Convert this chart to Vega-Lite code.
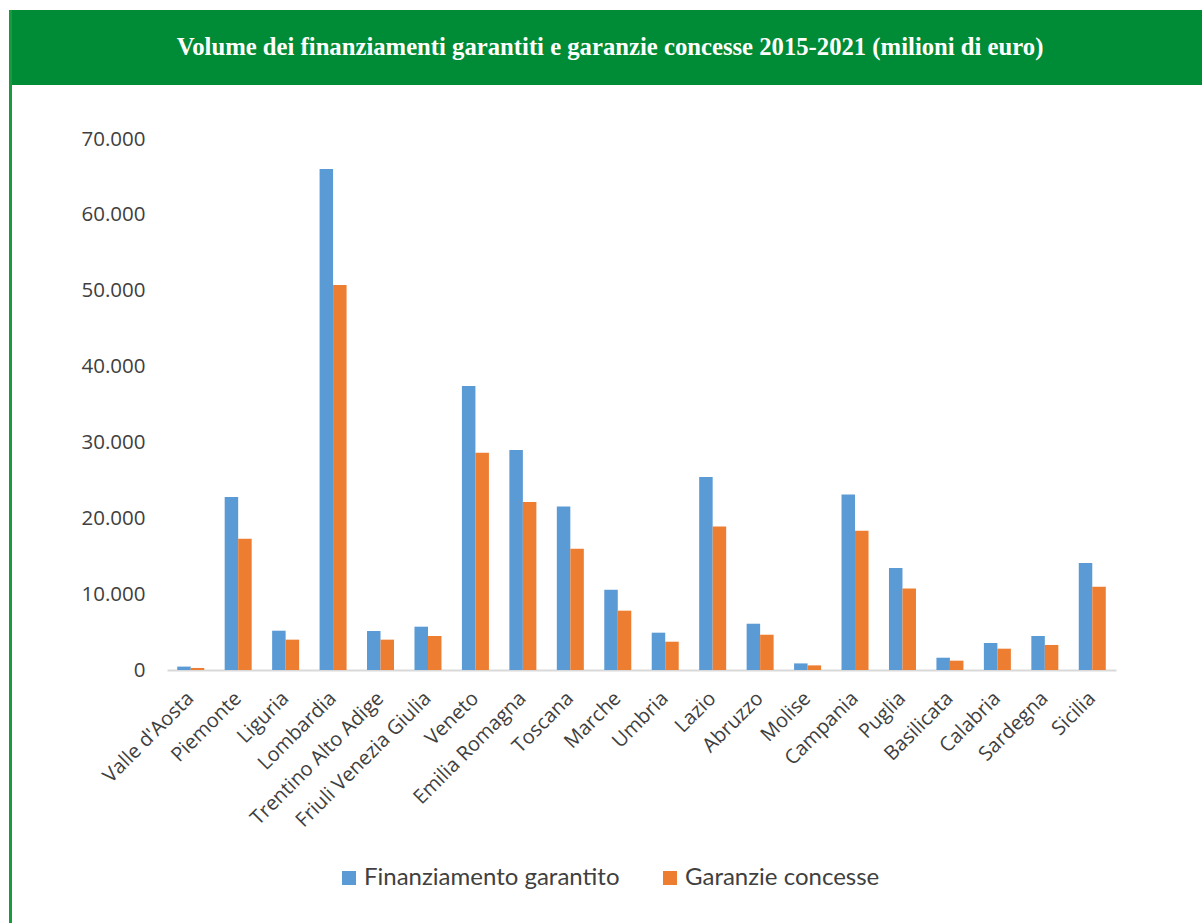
{
  "$schema": "https://vega.github.io/schema/vega-lite/v6.json",
  "padding": {"left": 9, "top": 10, "right": 0, "bottom": 0},
  "background": "white",
  "bounds": "flush",
  "spacing": 0,
  "config": {
    "view": {"stroke": null},
    "font": "Open Sans"
  },
  "hconcat": [
    {
      "width": 3,
      "height": 913,
      "view": {"fill": "#1a9a3f", "stroke": null},
      "data": {"values": [{"a": 1}]},
      "mark": {"type": "text", "text": ""}
    },
    {
      "bounds": "flush",
      "spacing": 54,
      "vconcat": [
        {
          "width": 1190,
          "height": 75,
          "view": {"fill": "#008C36", "stroke": null},
          "data": {"values": [{"t": "Volume dei finanziamenti garantiti e garanzie concesse 2015-2021 (milioni di euro)"}]},
          "mark": {"type": "text", "color": "white", "font": "Liberation Serif", "fontWeight": "bold", "fontSize": 24.7, "dx": 3},
          "encoding": {"text": {"field": "t"}}
        },
        {
          "bounds": "flush",
          "spacing": 20,
          "hconcat": [
            {
              "width": 135,
              "height": 531,
              "data": {"values": [{"a": 1}]},
              "mark": {"type": "text", "text": ""}
            },
            {
              "width": 949,
              "height": 531,
              "data": {
                "values": [
                  {"regione": "Valle d'Aosta", "serie": "Finanziamento garantito", "valore": 450},
                  {"regione": "Valle d'Aosta", "serie": "Garanzie concesse", "valore": 270},
                  {"regione": "Piemonte", "serie": "Finanziamento garantito", "valore": 22800},
                  {"regione": "Piemonte", "serie": "Garanzie concesse", "valore": 17300},
                  {"regione": "Liguria", "serie": "Finanziamento garantito", "valore": 5180},
                  {"regione": "Liguria", "serie": "Garanzie concesse", "valore": 4000},
                  {"regione": "Lombardia", "serie": "Finanziamento garantito", "valore": 66050},
                  {"regione": "Lombardia", "serie": "Garanzie concesse", "valore": 50750},
                  {"regione": "Trentino Alto Adige", "serie": "Finanziamento garantito", "valore": 5140},
                  {"regione": "Trentino Alto Adige", "serie": "Garanzie concesse", "valore": 4000},
                  {"regione": "Friuli Venezia Giulia", "serie": "Finanziamento garantito", "valore": 5710},
                  {"regione": "Friuli Venezia Giulia", "serie": "Garanzie concesse", "valore": 4480},
                  {"regione": "Veneto", "serie": "Finanziamento garantito", "valore": 37440},
                  {"regione": "Veneto", "serie": "Garanzie concesse", "valore": 28650},
                  {"regione": "Emilia Romagna", "serie": "Finanziamento garantito", "valore": 29000},
                  {"regione": "Emilia Romagna", "serie": "Garanzie concesse", "valore": 22150},
                  {"regione": "Toscana", "serie": "Finanziamento garantito", "valore": 21570},
                  {"regione": "Toscana", "serie": "Garanzie concesse", "valore": 16000},
                  {"regione": "Marche", "serie": "Finanziamento garantito", "valore": 10590},
                  {"regione": "Marche", "serie": "Garanzie concesse", "valore": 7820},
                  {"regione": "Umbria", "serie": "Finanziamento garantito", "valore": 4920},
                  {"regione": "Umbria", "serie": "Garanzie concesse", "valore": 3730},
                  {"regione": "Lazio", "serie": "Finanziamento garantito", "valore": 25440},
                  {"regione": "Lazio", "serie": "Garanzie concesse", "valore": 18930},
                  {"regione": "Abruzzo", "serie": "Finanziamento garantito", "valore": 6100},
                  {"regione": "Abruzzo", "serie": "Garanzie concesse", "valore": 4650},
                  {"regione": "Molise", "serie": "Finanziamento garantito", "valore": 870},
                  {"regione": "Molise", "serie": "Garanzie concesse", "valore": 610},
                  {"regione": "Campania", "serie": "Finanziamento garantito", "valore": 23150},
                  {"regione": "Campania", "serie": "Garanzie concesse", "valore": 18360},
                  {"regione": "Puglia", "serie": "Finanziamento garantito", "valore": 13450},
                  {"regione": "Puglia", "serie": "Garanzie concesse", "valore": 10760},
                  {"regione": "Basilicata", "serie": "Finanziamento garantito", "valore": 1620},
                  {"regione": "Basilicata", "serie": "Garanzie concesse", "valore": 1230},
                  {"regione": "Calabria", "serie": "Finanziamento garantito", "valore": 3560},
                  {"regione": "Calabria", "serie": "Garanzie concesse", "valore": 2810},
                  {"regione": "Sardegna", "serie": "Finanziamento garantito", "valore": 4480},
                  {"regione": "Sardegna", "serie": "Garanzie concesse", "valore": 3300},
                  {"regione": "Sicilia", "serie": "Finanziamento garantito", "valore": 14100},
                  {"regione": "Sicilia", "serie": "Garanzie concesse", "valore": 10980}
                ]
              },
              "mark": {"type": "bar"},
              "encoding": {
                "x": {
                  "field": "regione",
                  "type": "nominal",
                  "sort": null,
                  "scale": {"paddingInner": 0.431, "paddingOuter": 0.2155},
                  "axis": {
                    "title": null,
                    "labelAngle": -45,
                    "labelAlign": "right",
                    "labelBaseline": "middle",
                    "labelFont": "Open Sans",
                    "labelFontSize": 20,
                    "labelColor": "#404040",
                    "labelPadding": 25,
                    "labelLimit": 400,
                    "ticks": false,
                    "domainColor": "#d9d9d9",
                    "domainWidth": 2
                  }
                },
                "xOffset": {
                  "field": "serie",
                  "type": "nominal",
                  "sort": ["Finanziamento garantito", "Garanzie concesse"]
                },
                "y": {
                  "field": "valore",
                  "type": "quantitative",
                  "scale": {"domain": [0, 70000], "nice": false},
                  "axis": {
                    "title": null,
                    "values": [0, 10000, 20000, 30000, 40000, 50000, 60000, 70000],
                    "labelExpr": "replace(format(datum.value, ','), ',', '.')",
                    "labelFont": "Open Sans",
                    "labelFontSize": 20.5,
                    "labelColor": "#404040",
                    "labelPadding": 22,
                    "domain": false,
                    "ticks": false,
                    "grid": false
                  }
                },
                "color": {
                  "field": "serie",
                  "type": "nominal",
                  "scale": {
                    "domain": ["Finanziamento garantito", "Garanzie concesse"],
                    "range": ["#5B9BD5", "#ED7D31"]
                  },
                  "legend": {
                    "title": null,
                    "orient": "none",
                    "direction": "horizontal",
                    "legendX": 328,
                    "legendY": 856,
                    "symbolType": "square",
                    "symbolSize": 196,
                    "symbolStrokeWidth": 0,
                    "symbolOpacity": 1,
                    "labelFont": "Lato",
                    "labelFontSize": 24,
                    "labelColor": "#404040",
                    "labelLimit": 500,
                    "labelOffset": 3,
                    "columnPadding": 38,
                    "padding": 0
                  }
                }
              }
            }
          ]
        }
      ]
    }
  ]
}
